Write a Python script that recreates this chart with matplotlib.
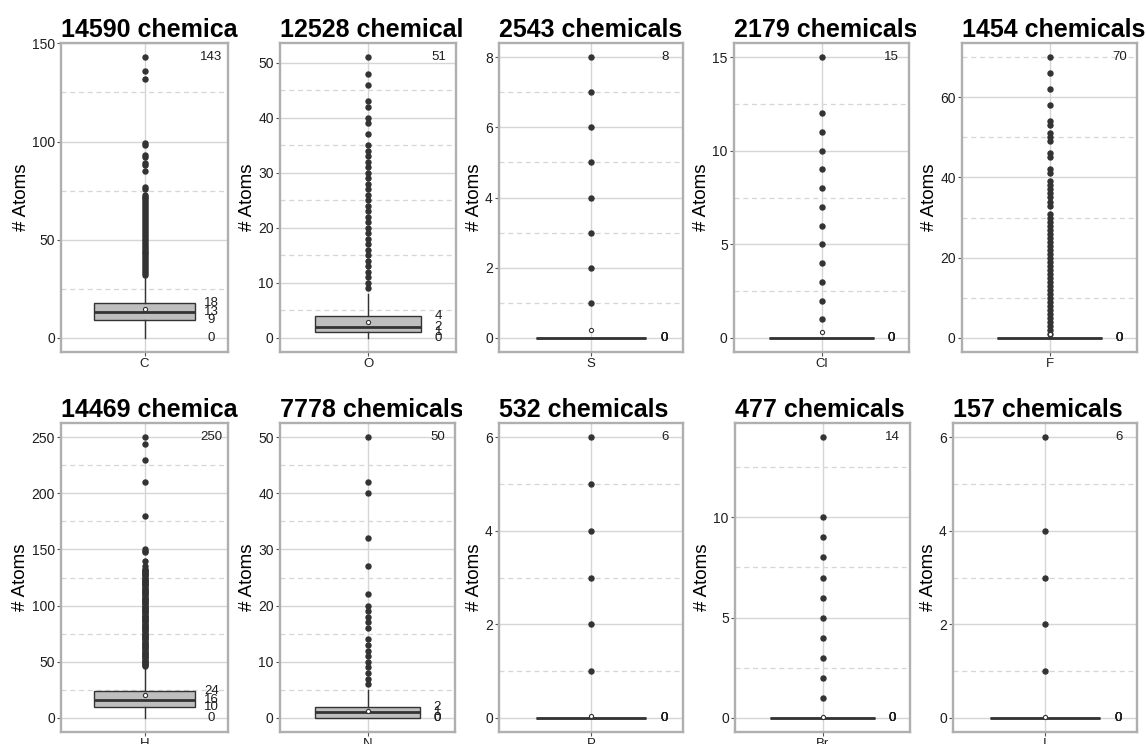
import numpy as np
import matplotlib
matplotlib.use("Agg")
import matplotlib.pyplot as plt
from matplotlib.transforms import Bbox
from matplotlib.ticker import MultipleLocator

plt.rcParams['font.family'] = ['Liberation Sans', 'DejaVu Sans']

# ---------------- data ----------------
elements = ["C", "O", "S", "Cl", "F", "H", "N", "P", "Br", "I"]
n_chemicals = [14590, 12528, 2543, 2179, 1454, 14469, 7778, 532, 477, 157]

mins = [0, 0, 0, 0, 0, 0, 0, 0, 0, 0]
q1s = [9, 1, 0, 0, 0, 10, 0, 0, 0, 0]
medians = [13, 2, 0, 0, 0, 16, 1, 0, 0, 0]
q3s = [18, 4, 0, 0, 0, 24, 2, 0, 0, 0]
whisker_hi = [31, 8, 0, 0, 0, 45, 5, 0, 0, 0]
maxs = [143, 51, 8, 15, 70, 250, 50, 6, 14, 6]
means = [14.8, 2.9, 0.22, 0.3, 0.9, 20.2, 1.3, 0.04, 0.05, 0.01]

outliers_C = list(range(32, 74)) + [76, 77, 85, 88, 89, 92, 93, 98, 99, 132, 136, 143]
outliers_O = list(range(9, 36)) + [37, 39, 40, 42, 43, 46, 48, 51]
outliers_S = [1, 2, 3, 4, 5, 6, 7, 8]
outliers_Cl = [1, 2, 3, 4, 5, 6, 7, 8, 9, 10, 11, 12, 15]
outliers_F = list(range(1, 32)) + [33, 34, 35, 36, 37, 38, 39, 41, 42, 45, 46,
                                   49, 50, 51, 53, 54, 58, 62, 66, 70]
outliers_H = list(range(46, 134)) + [135, 140, 148, 149, 150, 180, 210, 230, 244, 250]
outliers_N = list(range(6, 15)) + [16, 17, 18, 19, 20, 22, 27, 32, 40, 42, 50]
outliers_P = [1, 2, 3, 4, 5, 6]
outliers_Br = [1, 2, 3, 4, 5, 6, 7, 8, 9, 10, 14]
outliers_I = [1, 2, 3, 4, 6]
outliers = [outliers_C, outliers_O, outliers_S, outliers_Cl, outliers_F,
            outliers_H, outliers_N, outliers_P, outliers_Br, outliers_I]

major_steps = [50, 10, 2, 5, 20, 50, 10, 2, 5, 2]

# ---------------- layout (pixels) ----------------
W, H = 1146, 744
panel_lr = [(61, 228), (280, 456), (499, 683), (734, 909), (962, 1137),
            (61, 228), (280, 455), (499, 683), (735, 910), (953, 1137)]
row_tb = [(43, 352), (423, 732)]
cell_right = [239, 462, 690, 916, 1146]
cell_left = [0, 239, 462, 690, 916]

fig = plt.figure(figsize=(W / 100, H / 100), dpi=100)

grid_c = "#D6D6D6"
dark = "#333333"

for i, el in enumerate(elements):
    row = i // 5
    col = i % 5
    l, r = panel_lr[i]
    t, b = row_tb[row]
    ax = fig.add_axes([l / W, 1 - b / H, (r - l) / W, (b - t) / H])

    stats = [dict(med=medians[i], q1=q1s[i], q3=q3s[i], whislo=mins[i],
                  whishi=whisker_hi[i], fliers=np.array(outliers[i]),
                  mean=means[i], label=el)]
    ax.bxp(stats, positions=[1], widths=0.72, patch_artist=True,
           showmeans=True, showcaps=False,
           boxprops=dict(facecolor="#BEBEBE", edgecolor=dark, linewidth=1.0),
           medianprops=dict(color=dark, linewidth=2.0, solid_capstyle='butt'),
           whiskerprops=dict(color=dark, linewidth=1.0),
           flierprops=dict(marker='o', markerfacecolor=dark, markeredgecolor=dark,
                           markersize=3.6, linestyle='none'),
           meanprops=dict(marker='o', markerfacecolor='white', markeredgecolor=dark,
                          markersize=3.0, markeredgewidth=0.8),
           zorder=3)

    ymax = maxs[i]
    rng = ymax - mins[i]
    ax.set_ylim(mins[i] - 0.05 * rng, ymax + 0.05 * rng)
    ax.set_xlim(0.4, 1.6)

    step = major_steps[i]
    ax.yaxis.set_major_locator(MultipleLocator(step))
    ax.yaxis.set_minor_locator(MultipleLocator(step / 2))
    ax.set_xticks([1])
    ax.set_xticklabels([el])

    ax.grid(True, which='major', axis='both', color=grid_c, linewidth=1.0, zorder=0)
    ax.grid(True, which='minor', axis='y', color=grid_c, linewidth=0.9,
            linestyle=(0, (4, 3)), zorder=0)
    ax.set_axisbelow(True)

    for s in ax.spines.values():
        s.set_color("#AFAFAF")
        s.set_linewidth(1.7)

    ax.tick_params(axis='both', which='major', length=3, width=0.8,
                   color="#555555", labelsize=10, labelcolor="#1E1E1E", pad=1.5)
    ax.tick_params(axis='x', which='major', labelsize=9.5)
    ax.tick_params(axis='y', which='minor', length=0)

    ax.set_ylabel("# Atoms", fontsize=13.5, labelpad=1.5)

    # value labels: max, q3, median, q1, min
    for v in [maxs[i], q3s[i], medians[i], q1s[i], mins[i]]:
        ax.text(1.48, v, str(v), ha='center', va='center', fontsize=9.5,
                color="#1E1E1E", zorder=5)

    title = ax.set_title(f"{n_chemicals[i]} chemicals", loc='left', fontsize=18,
                         fontweight='bold', pad=4.5)
    title.set_x(0.0)
    clip = Bbox.from_extents(cell_left[col], 0, cell_right[col], H)
    title.set_clip_box(clip)
    title.set_clip_on(True)

fig.savefig("out.png", dpi=100)
